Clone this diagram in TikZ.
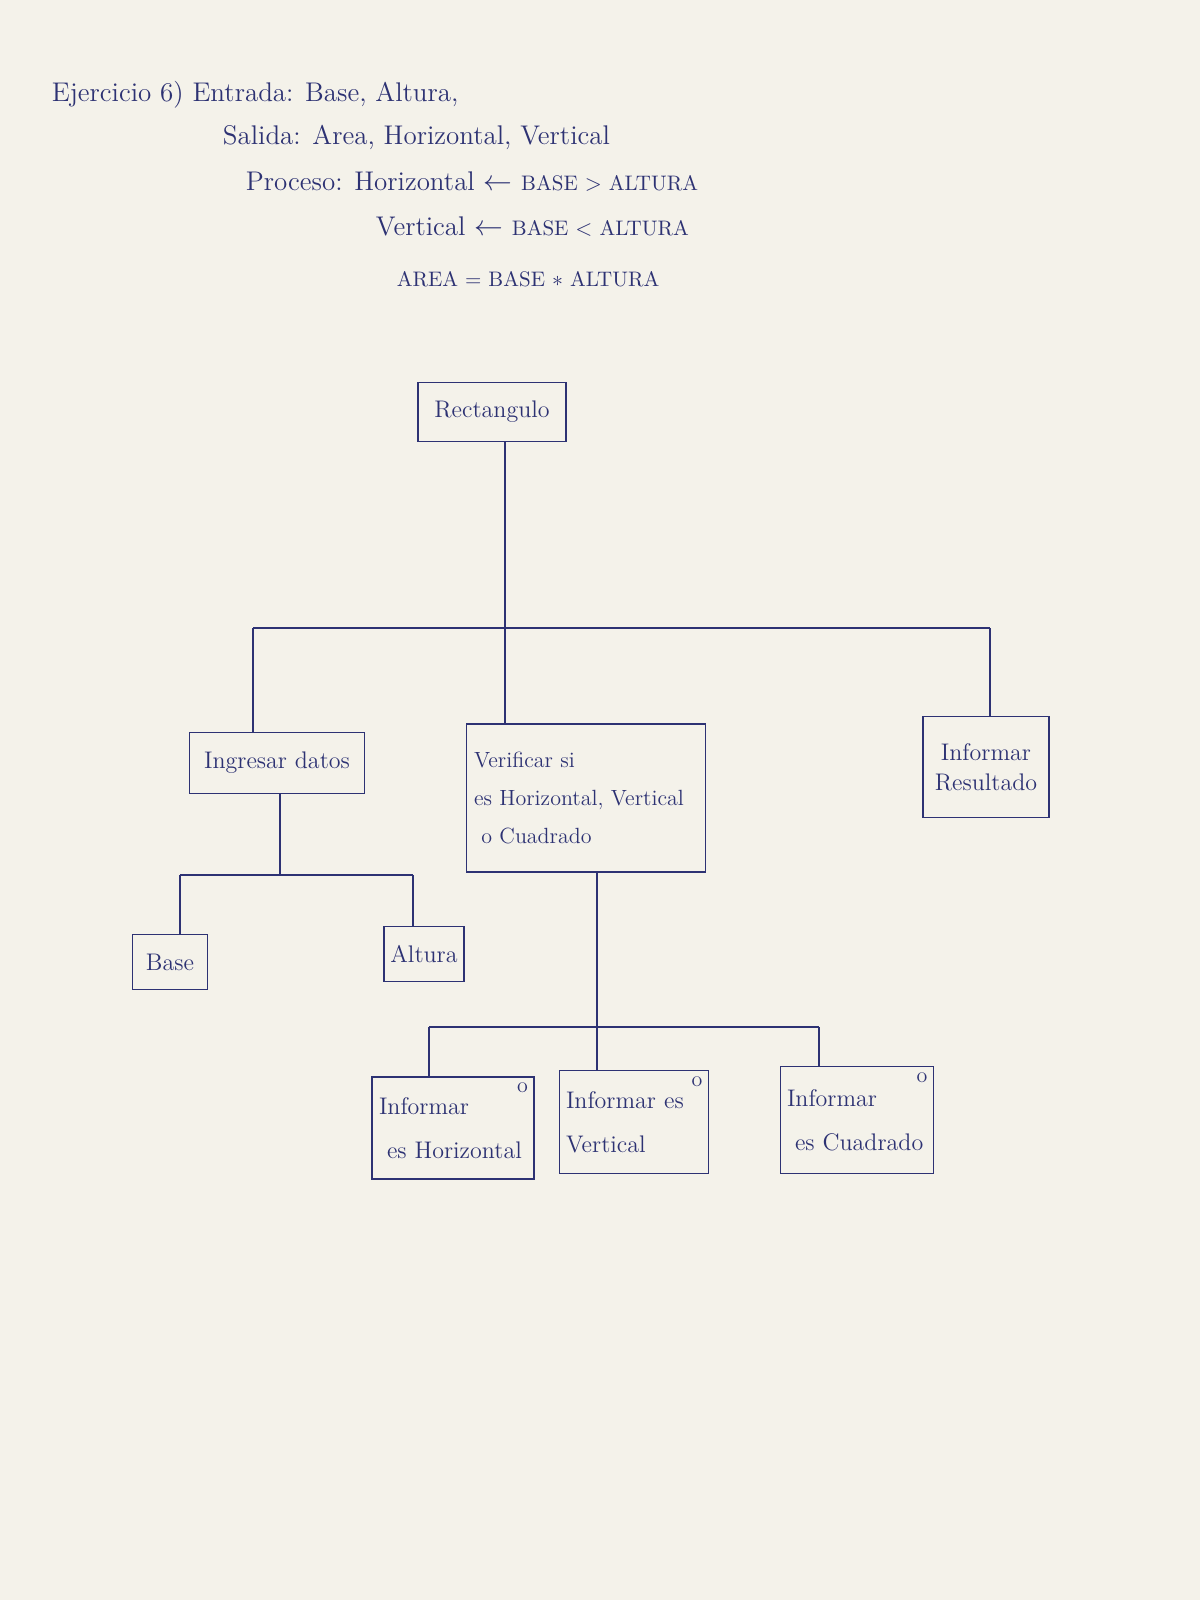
\documentclass[tikz,border=0pt]{standalone}
\usepackage{fontspec}
\definecolor{ink}{RGB}{45,50,115}
\definecolor{paper}{RGB}{244,242,234}
\newcommand{\capw}[1]{{\fontsize{10.5}{13}\selectfont #1}}
\begin{document}
\begin{tikzpicture}[x=0.5pt,y=-0.5pt,line width=0.9pt,color=ink,
  box/.style={draw,rectangle,inner sep=3pt,font=\fontsize{12}{15}\selectfont},
  hdr/.style={anchor=base west,inner sep=0pt,font=\fontsize{13.5}{15}\selectfont},
  selmark/.style={label={[anchor=north east,inner sep=3pt,font=\fontsize{11}{13}\selectfont]north east:o}}]
\fill[paper] (0,0) rectangle (1200,1600);
\useasboundingbox (0,0) rectangle (1200,1600);

% header
\node[hdr] (h1) at (51,102) {Ejercicio 6) Entrada: Base, Altura,};
\node[hdr] (h2) at (222,145) {Salida: Area, Horizontal, Vertical};
\node[hdr] (h3) at (245,190) {Proceso: Horizontal $\leftarrow$ \capw{BASE $>$ ALTURA}};
\node[hdr] (h4) at (375,235) {Vertical $\leftarrow$ \capw{BASE $<$ ALTURA}};
\node[hdr] (h5) at (396,286) {\capw{AREA = BASE $*$ ALTURA}};

% boxes
\node[box,minimum width=74pt,minimum height=29.5pt] (rect) at (492,412) {Rectangulo};
\node[box,minimum width=87.5pt,minimum height=30.5pt] (ing) at (277,763) {Ingresar datos};
\node[box,minimum width=119.5pt,minimum height=74pt,text width=112pt,align=left,
      font=\fontsize{11}{19}\selectfont] (ver) at (586,798)
      {Verificar si\\ es Horizontal, Vertical\\ \ o Cuadrado};
\node[box,minimum width=63pt,minimum height=50.5pt,align=center] (infr) at (986,767)
      {Informar\\ Resultado};
\node[box,minimum width=37.5pt,minimum height=27.5pt] (base) at (170,962) {Base};
\node[box,minimum width=40pt,minimum height=27.5pt] (alt) at (424,954) {Altura};
\node[box,selmark,minimum width=81pt,minimum height=51pt,text width=74pt,align=left,
      font=\fontsize{12}{22}\selectfont] (ih) at (453,1128) {Informar\\ \ es Horizontal};
\node[box,selmark,minimum width=74.5pt,minimum height=51.5pt,text width=68pt,align=left,
      font=\fontsize{12}{22}\selectfont] (iv) at (634,1122) {Informar es\\ Vertical};
\node[box,selmark,minimum width=76.5pt,minimum height=53.5pt,text width=70pt,align=left,
      font=\fontsize{12}{22}\selectfont] (ic) at (857,1120) {Informar\\ \ es Cuadrado};

% level 1 connectors
\coordinate (jtop) at (505,628);
\coordinate (barL) at (253,628);
\coordinate (barR) at (990,628);
\draw (rect.south -| jtop) -- (jtop);
\draw (barL) -- (barR);
\draw (barL) -- (ing.north -| barL);
\draw (jtop) -- (ver.north -| jtop);
\draw (barR) -- (infr.north -| barR);

% Ingresar datos connectors
\coordinate (sJ) at (280,875);
\coordinate (sL) at (180,875);
\coordinate (sR) at (413,875);
\draw (ing.south -| sJ) -- (sJ);
\draw (sL) -- (sR);
\draw (sL) -- (base.north -| sL);
\draw (sR) -- (alt.north -| sR);

% Verificar connectors
\coordinate (vJ) at (597,1027);
\coordinate (lL) at (429,1027);
\coordinate (lR) at (819,1027);
\draw (ver.south -| vJ) -- (vJ);
\draw (lL) -- (lR);
\draw (lL) -- (ih.north -| lL);
\draw (vJ) -- (iv.north -| vJ);
\draw (lR) -- (ic.north -| lR);
\end{tikzpicture}
\end{document}
